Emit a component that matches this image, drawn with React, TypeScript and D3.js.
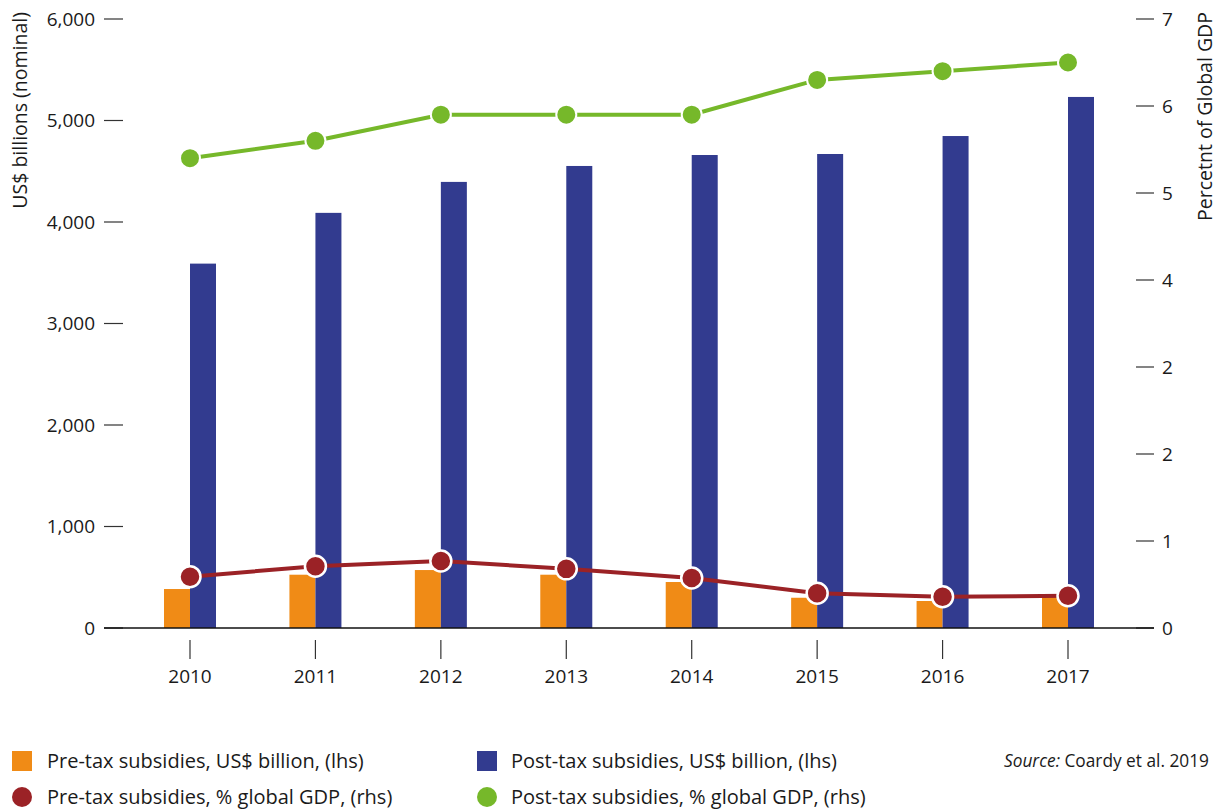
import React from "react";
import * as d3 from "d3";

const years = ["2010", "2011", "2012", "2013", "2014", "2015", "2016", "2017"];
const preTaxUsd = [384, 525, 571, 525, 453, 298, 266, 305];
const postTaxUsd = [3590, 4090, 4395, 4552, 4660, 4670, 4847, 5232];
const preTaxGdp = [0.59, 0.71, 0.77, 0.68, 0.575, 0.4, 0.36, 0.37];
const postTaxGdp = [5.4, 5.6, 5.9, 5.9, 5.9, 6.3, 6.4, 6.5];
const leftTicks = [0, 1000, 2000, 3000, 4000, 5000, 6000];
const rightTicks = [0, 1, 2, 3, 4, 5, 6, 7];
const rightTickLabels = ["0", "1", "2", "2", "4", "5", "6", "7"];

const ORANGE = "#F08B16";
const BLUE = "#323B8F";
const GREEN = "#76B82A";
const RED = "#9B2226";
const FONT = "'Open Sans', sans-serif";

export default function App() {
  const W = 1217, H = 809;
  const x = d3.scalePoint<string>().domain(years).range([190, 1068]);
  const yL = d3.scaleLinear().domain([0, 6000]).range([628, 19]);
  const yR = d3.scaleLinear().domain([0, 7]).range([628, 19]);
  const bw = 26;
  const lineGen = (vals: number[]) =>
    d3.line<number>().x((_, i) => x(years[i])!).y((v) => yR(v))(vals) || "";
  const TS = 19;
  const LS = 20;

  return (
    <svg width={W} height={H} style={{ position: "absolute", left: 0, top: 0 }} fontFamily={FONT}>
      <rect width={W} height={H} fill="#fff" />
      {/* left axis */}
      {leftTicks.map((t) => (
        <g key={"l" + t}>
          <line x1={104} x2={123} y1={yL(t)} y2={yL(t)} stroke="#333" strokeWidth={1.2} />
          <text x={95} y={yL(t)} dy="0.35em" textAnchor="end" fontSize={TS} fill="#1a1a1a">
            {d3.format(",")(t)}
          </text>
        </g>
      ))}
      <text transform="translate(27,12) rotate(-90)" textAnchor="end" fontSize={19.5} fill="#1a1a1a">
        US$ billions (nominal)
      </text>
      {/* right axis */}
      {rightTicks.map((t, i) => (
        <g key={"r" + t}>
          <line x1={1136} x2={1154} y1={yR(t)} y2={yR(t)} stroke="#333" strokeWidth={1.2} />
          <text x={1162} y={yR(t)} dy="0.35em" textAnchor="start" fontSize={TS} fill="#1a1a1a">
            {rightTickLabels[i]}
          </text>
        </g>
      ))}
      <text transform="translate(1212,12) rotate(-90)" textAnchor="end" fontSize={19.5} fill="#1a1a1a">
        Percetnt of Global GDP
      </text>
      {/* bars */}
      {years.map((yr, i) => (
        <g key={"b" + yr}>
          <rect x={x(yr)! - bw} y={yL(preTaxUsd[i])} width={bw} height={yL(0) - yL(preTaxUsd[i])} fill={ORANGE} />
          <rect x={x(yr)!} y={yL(postTaxUsd[i])} width={bw} height={yL(0) - yL(postTaxUsd[i])} fill={BLUE} />
        </g>
      ))}
      {/* baseline */}
      <line x1={104} x2={1154} y1={628} y2={628} stroke="#111" strokeWidth={1.5} />
      {/* x ticks */}
      {years.map((yr) => (
        <g key={"x" + yr}>
          <line x1={x(yr)} x2={x(yr)} y1={640} y2={659} stroke="#333" strokeWidth={1.2} />
          <text x={x(yr)} y={683} textAnchor="middle" fontSize={TS} fill="#1a1a1a">
            {yr}
          </text>
        </g>
      ))}
      {/* lines */}
      <path d={lineGen(postTaxGdp)} fill="none" stroke={GREEN} strokeWidth={4} />
      {postTaxGdp.map((v, i) => (
        <circle key={"g" + i} cx={x(years[i])} cy={yR(v)} r={10} fill={GREEN} stroke="#fff" strokeWidth={2} />
      ))}
      <path d={lineGen(preTaxGdp)} fill="none" stroke={RED} strokeWidth={4} />
      {preTaxGdp.map((v, i) => (
        <circle key={"rd" + i} cx={x(years[i])} cy={yR(v)} r={10.5} fill={RED} stroke="#fff" strokeWidth={2.5} />
      ))}
      {/* legend */}
      <rect x={12} y={751} width={20} height={20} fill={ORANGE} />
      <text x={47} y={768} fontSize={LS} fill="#1a1a1a">Pre-tax subsidies, US$ billion, (lhs)</text>
      <circle cx={22} cy={797} r={10} fill={RED} />
      <text x={47} y={804} fontSize={LS} fill="#1a1a1a">Pre-tax subsidies, % global GDP, (rhs)</text>
      <rect x={477} y={751} width={20} height={20} fill={BLUE} />
      <text x={511} y={768} fontSize={LS} fill="#1a1a1a">Post-tax subsidies, US$ billion, (lhs)</text>
      <circle cx={487} cy={797} r={10} fill={GREEN} />
      <text x={511} y={804} fontSize={LS} fill="#1a1a1a">Post-tax subsidies, % global GDP, (rhs)</text>
      <text x={1209} y={767} textAnchor="end" fontSize={17.3} fill="#1a1a1a">
        <tspan fontStyle="italic">Source:</tspan> Coardy et al. 2019
      </text>
    </svg>
  );
}
